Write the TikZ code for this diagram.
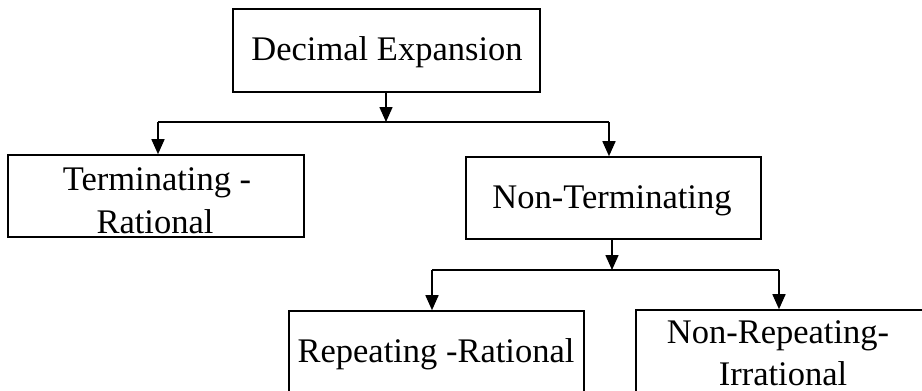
\documentclass[tikz,border=0pt]{standalone}
\usepackage{fontspec}
\setmainfont{Liberation Serif}
\usetikzlibrary{arrows.meta}
\begin{document}
\begin{tikzpicture}[x=1pt,y=1pt,
  box/.style={draw, line width=1.6pt, rectangle, inner sep=0pt},
  lbl/.style={anchor=base, inner sep=0pt, font=\fontsize{34.5}{38}\selectfont},
  link/.style={line width=1.6pt},
  arr/.style={line width=1.6pt, -{Triangle[width=13pt,length=15pt]}}]
\useasboundingbox (0,0) rectangle (922,-391);
\clip (0,0) rectangle (922,-391);

% boxes
\node[box, minimum width=307pt, minimum height=83pt] (de)   at (386.5,-50.5) {};
\node[box, minimum width=296pt, minimum height=82pt] (term) at (156,-196) {};
\node[box, minimum width=295pt, minimum height=82pt] (nont) at (613.5,-198) {};
\node[box, minimum width=295pt, minimum height=82pt] (rep)  at (436.5,-352) {};
\node[box, minimum width=295pt, minimum height=82pt] (nrep) at (783.5,-351) {};

% labels
\node[lbl] (tde) at (387,-60) {Decimal Expansion};
\node[lbl] (tt1) at (157,-190) {Terminating -};
\node[lbl] (tt2) at (155,-233) {Rational};
\node[lbl] (tnt) at (612,-208) {Non-Terminating};
\node[lbl] (trp) at (436,-362) {Repeating -Rational};
\node[lbl] (tn1) at (778,-343) {Non-Repeating-};
\node[lbl] (tn2) at (783,-385) {Irrational};

% first branching
\coordinate (j1)  at (386,-122);
\coordinate (j1l) at (158,-122);
\coordinate (j1r) at (609,-122);
\draw[arr] (de.south -| j1) -- (j1);
\draw[link] (j1l) -- (j1r);
\draw[arr] (j1l) -- (j1l |- term.north);
\draw[arr] (j1r) -- (j1r |- nont.north);

% second branching
\coordinate (j2)  at (612,-270);
\coordinate (j2l) at (432,-270);
\coordinate (j2r) at (779,-270);
\draw[arr] (nont.south -| j2) -- (j2);
\draw[link] (j2l) -- (j2r);
\draw[arr] (j2l) -- (j2l |- rep.north);
\draw[arr] (j2r) -- (j2r |- nrep.north);
\end{tikzpicture}
\end{document}
